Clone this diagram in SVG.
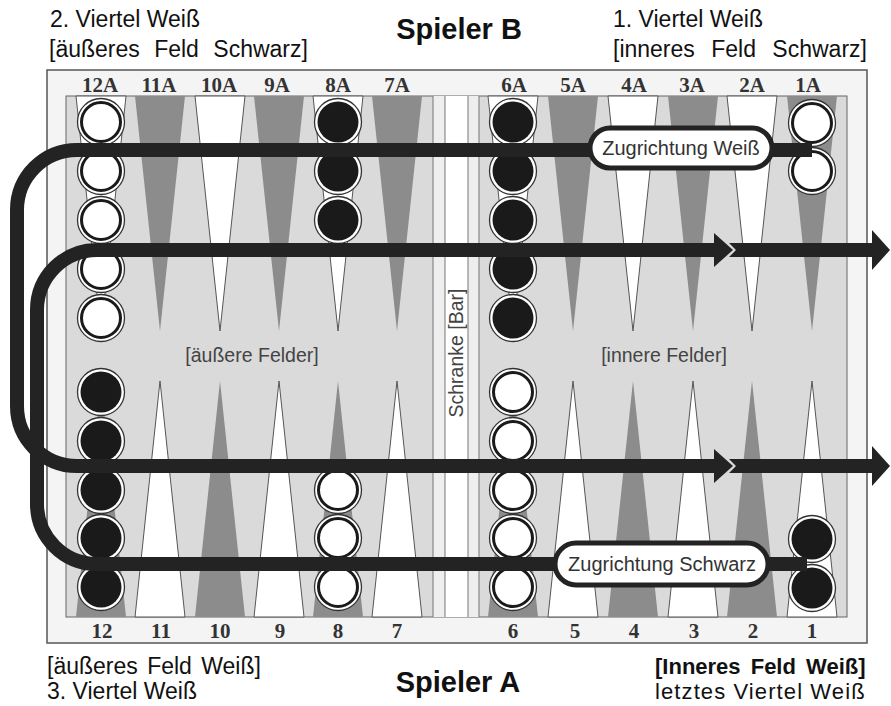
<svg xmlns="http://www.w3.org/2000/svg" xmlns:xlink="http://www.w3.org/1999/xlink" width="891" height="706" viewBox="0 0 891 706">
<style>
.lbl{font-family:"Liberation Sans",Arial,sans-serif;fill:#111}
.num{font-family:"Liberation Serif","Times New Roman",serif;font-weight:bold;font-size:21px;fill:#333;text-anchor:middle}
.brd{font-family:"Liberation Sans",Arial,sans-serif;font-size:19.5px;fill:#444}
.dk{fill:#8c8c8c}
.wt{fill:#fff;stroke:#555;stroke-width:1}
.path{fill:none;stroke:#232323;stroke-width:14}
.head{fill:#232323}
.pill{fill:#fff;stroke:#232323;stroke-width:5}
.ptxt{font-family:"Liberation Sans",Arial,sans-serif;font-size:20px;fill:#333;text-anchor:middle}
</style>
<defs>
<g id="wc"><circle r="23.5" fill="#fff" stroke="#333" stroke-width="1.3"/><circle r="19.5" fill="#fff" stroke="#1a1a1a" stroke-width="3"/></g>
<g id="bc"><circle r="23.5" fill="#fff" stroke="#333" stroke-width="1.3"/><circle r="20.5" fill="#1a1a1a"/></g>
</defs>
<rect width="891" height="706" fill="#fff"/>
<g id="board">
<rect x="47" y="70" width="820" height="573" fill="#f4f4f4" stroke="#555" stroke-width="1.5"/>
<rect x="66" y="96" width="781" height="521" fill="#dadada" stroke="#666" stroke-width="1"/>
<rect x="433" y="96" width="46" height="521" fill="#eeeeee"/>
<rect x="445" y="96" width="23" height="521" fill="#fff"/>
<g stroke="#777" stroke-width="1">
<line x1="433" y1="96" x2="433" y2="617"/><line x1="445" y1="96" x2="445" y2="617"/>
<line x1="468" y1="96" x2="468" y2="617"/><line x1="479" y1="96" x2="479" y2="617"/>
</g>
</g>
<g id="points">
<polygon class="wt" points="76,96 126,96 101,331"/>
<polygon class="dk" points="135,96 185,96 160,331"/>
<polygon class="wt" points="195,96 245,96 220,331"/>
<polygon class="dk" points="254,96 304,96 279,331"/>
<polygon class="wt" points="313,96 363,96 338,331"/>
<polygon class="dk" points="372,96 422,96 397,331"/>
<polygon class="wt" points="488,96 538,96 513,331"/>
<polygon class="dk" points="548,96 598,96 573,331"/>
<polygon class="wt" points="608,96 658,96 633,331"/>
<polygon class="dk" points="668,96 718,96 693,331"/>
<polygon class="wt" points="727,96 777,96 752,331"/>
<polygon class="dk" points="787,96 837,96 812,331"/>
<polygon class="dk" points="76,617 126,617 101,381"/>
<polygon class="wt" points="135,617 185,617 160,381"/>
<polygon class="dk" points="195,617 245,617 220,381"/>
<polygon class="wt" points="254,617 304,617 279,381"/>
<polygon class="dk" points="313,617 363,617 338,381"/>
<polygon class="wt" points="372,617 422,617 397,381"/>
<polygon class="dk" points="488,617 538,617 513,381"/>
<polygon class="wt" points="548,617 598,617 573,381"/>
<polygon class="dk" points="608,617 658,617 633,381"/>
<polygon class="wt" points="668,617 718,617 693,381"/>
<polygon class="dk" points="727,617 777,617 752,381"/>
<polygon class="wt" points="787,617 837,617 812,381"/>
</g>
<g id="point-labels">
<text class="num" x="100" y="92">12A</text><text class="num" x="159" y="92">11A</text>
<text class="num" x="219" y="92">10A</text><text class="num" x="277" y="92">9A</text>
<text class="num" x="338" y="92">8A</text><text class="num" x="397" y="92">7A</text>
<text class="num" x="514" y="92">6A</text><text class="num" x="573" y="92">5A</text>
<text class="num" x="634" y="92">4A</text><text class="num" x="692" y="92">3A</text>
<text class="num" x="752" y="92">2A</text><text class="num" x="808" y="92">1A</text>
<text class="num" x="102" y="638">12</text><text class="num" x="161" y="638">11</text>
<text class="num" x="220" y="638">10</text><text class="num" x="280" y="638">9</text>
<text class="num" x="338" y="638">8</text><text class="num" x="397" y="638">7</text>
<text class="num" x="513" y="638">6</text><text class="num" x="575" y="638">5</text>
<text class="num" x="634" y="638">4</text><text class="num" x="694" y="638">3</text>
<text class="num" x="753" y="638">2</text><text class="num" x="812" y="638">1</text>
</g>
<g id="board-labels">
<text class="brd" x="252" y="362" text-anchor="middle">[äußere Felder]</text>
<text class="brd" x="664" y="362" text-anchor="middle">[innere Felder]</text>
<text class="brd" transform="translate(463,353) rotate(-90)" text-anchor="middle" font-size="20">Schranke [Bar]</text>
</g>
<g id="checkers">
<use xlink:href="#wc" x="101" y="122"/><use xlink:href="#wc" x="101" y="171"/><use xlink:href="#wc" x="101" y="220"/><use xlink:href="#wc" x="101" y="269"/><use xlink:href="#wc" x="101" y="318"/>
<use xlink:href="#bc" x="101" y="392"/><use xlink:href="#bc" x="101" y="441"/><use xlink:href="#bc" x="101" y="490"/><use xlink:href="#bc" x="101" y="538"/><use xlink:href="#bc" x="101" y="587"/>
<use xlink:href="#bc" x="338" y="122"/><use xlink:href="#bc" x="338" y="171"/><use xlink:href="#bc" x="338" y="220"/>
<use xlink:href="#wc" x="338" y="490"/><use xlink:href="#wc" x="338" y="538"/><use xlink:href="#wc" x="338" y="587"/>
<use xlink:href="#bc" x="513" y="122"/><use xlink:href="#bc" x="513" y="171"/><use xlink:href="#bc" x="513" y="220"/><use xlink:href="#bc" x="513" y="269"/><use xlink:href="#bc" x="513" y="318"/>
<use xlink:href="#wc" x="513" y="392"/><use xlink:href="#wc" x="513" y="441"/><use xlink:href="#wc" x="513" y="490"/><use xlink:href="#wc" x="513" y="538"/><use xlink:href="#wc" x="513" y="587"/>
<use xlink:href="#wc" x="812" y="123"/><use xlink:href="#wc" x="812" y="171"/>
<use xlink:href="#bc" x="812" y="539"/><use xlink:href="#bc" x="812" y="588"/>
</g>
<g id="connectors">
<path class="path" d="M812,150 H77 A60,60 0 0 0 17,210 V406 A60,60 0 0 0 77,466 H716"/>
<polygon class="head" points="714,449 733,466 714,483"/>
<polygon class="head" points="729,459 872,459 872,446 890,466 872,486 872,473 729,473 736,466"/>
<path class="path" d="M807,564 H97 A60,60 0 0 1 37,504 V310 A60,60 0 0 1 97,250 H716"/>
<polygon class="head" points="714,233 733,250 714,267"/>
<polygon class="head" points="729,243 872,243 872,230 890,250 872,270 872,257 729,257 736,250"/>
</g>
<g id="pill-weiss">
<rect class="pill" x="590" y="128" width="182" height="40" rx="20"/>
<text class="ptxt" x="681" y="155">Zugrichtung Weiß</text>
</g>
<g id="pill-schwarz">
<rect class="pill" x="555" y="543" width="213" height="42" rx="21"/>
<text class="ptxt" x="662" y="571">Zugrichtung Schwarz</text>
</g>
<g id="outer-labels">
<text class="lbl" x="50" y="27" font-size="23">2. Viertel Weiß</text>
<text class="lbl" x="49" y="57" font-size="23" word-spacing="8">[äußeres Feld Schwarz]</text>
<text class="lbl" x="459" y="39" font-size="29" font-weight="bold" text-anchor="middle">Spieler B</text>
<text class="lbl" x="613" y="27" font-size="23">1. Viertel Weiß</text>
<text class="lbl" x="613" y="57" font-size="23" word-spacing="10">[inneres Feld Schwarz]</text>
<text class="lbl" x="47" y="674" font-size="23" word-spacing="3">[äußeres Feld Weiß]</text>
<text class="lbl" x="47" y="699" font-size="23">3. Viertel Weiß</text>
<text class="lbl" x="458" y="692" font-size="29" font-weight="bold" text-anchor="middle">Spieler A</text>
<text class="lbl" x="655" y="674" font-size="22" font-weight="bold" word-spacing="4">[Inneres Feld Weiß]</text>
<text class="lbl" x="655" y="699" font-size="22" letter-spacing="1.1">letztes Viertel Weiß</text>
</g>
</svg>
